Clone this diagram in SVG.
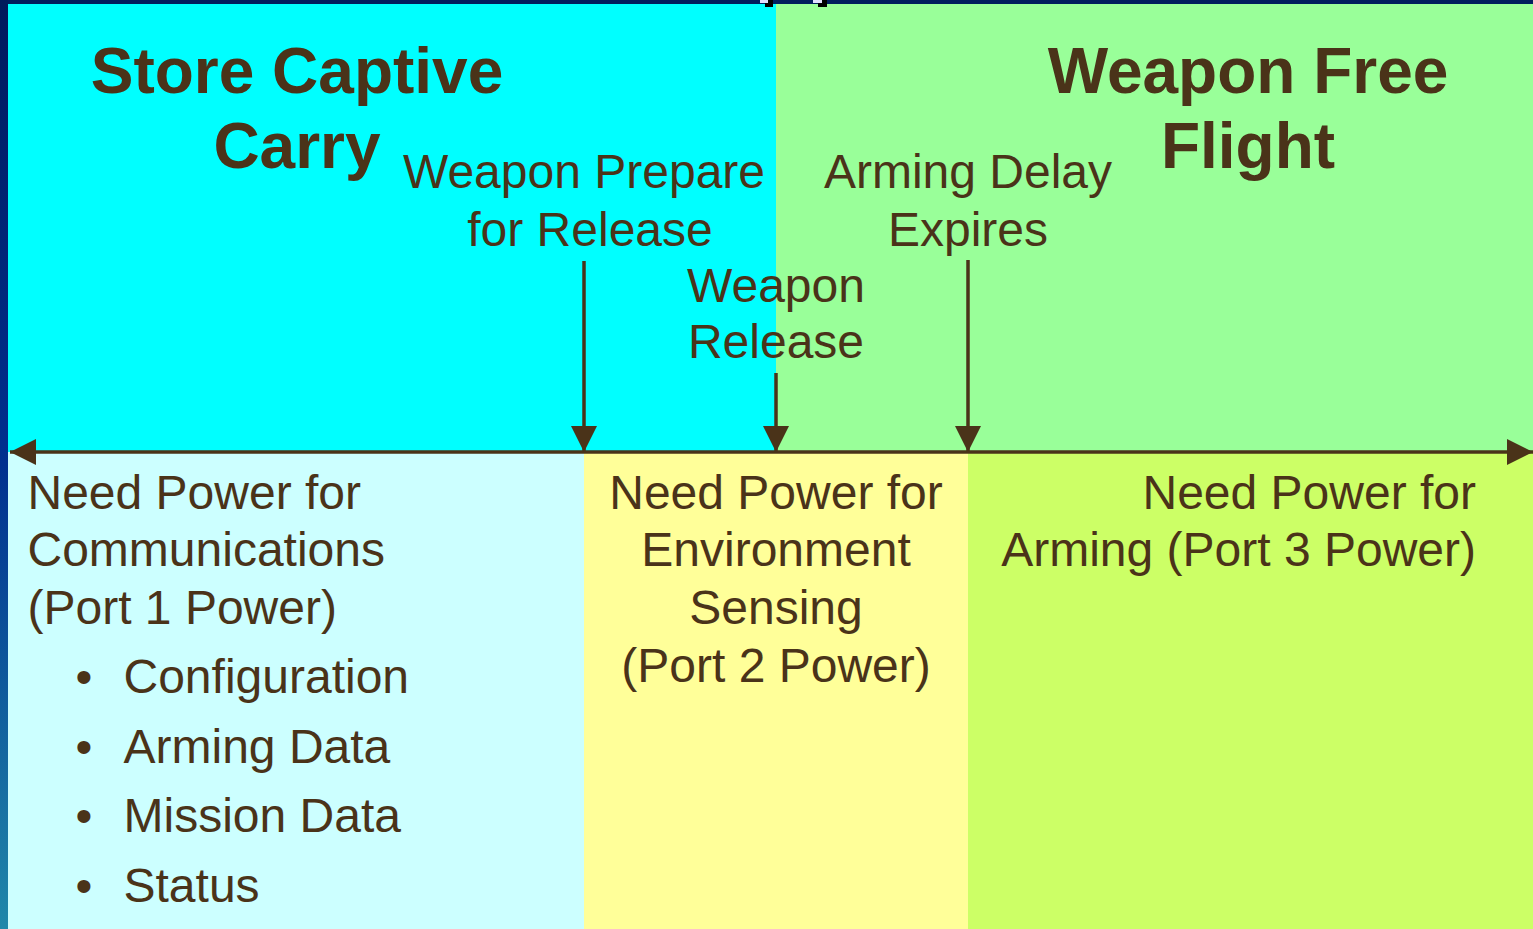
<svg xmlns="http://www.w3.org/2000/svg" width="1533" height="929" viewBox="0 0 1533 929">
<defs>
<linearGradient id="edge" x1="0" y1="0" x2="0" y2="1">
<stop offset="0" stop-color="#001a5c"/>
<stop offset="0.5" stop-color="#00308f"/>
<stop offset="1" stop-color="#2088aa"/>
</linearGradient>
<marker id="ah" viewBox="0 0 26 26" refX="26" refY="13" markerWidth="26" markerHeight="26" markerUnits="userSpaceOnUse" orient="auto">
<path d="M0,0 L26,13 L0,26 Z" fill="#4a3319"/>
</marker>
<style>
.t{font-family:"Liberation Sans",Arial,sans-serif;fill:#4a3319}
.h{font-size:64px;font-weight:bold;text-anchor:middle}
.r{font-size:48px}
.c{text-anchor:middle}
.e{text-anchor:end}
.ln{stroke:#4a3319;stroke-width:3.5;fill:none}
</style>
</defs>
<g id="background">
<rect x="0" y="0" width="1533" height="929" fill="#001e5e"/>
<rect x="0" y="0" width="8" height="929" fill="url(#edge)"/>
<rect x="8" y="4" width="768" height="448" fill="#00ffff"/>
<rect x="776" y="4" width="757" height="448" fill="#99ff99"/>
<rect x="8" y="452" width="576" height="477" fill="#ccffff"/>
<rect x="584" y="452" width="384" height="477" fill="#ffff99"/>
<rect x="968" y="452" width="565" height="477" fill="#ccff66"/>
<rect x="765" y="0" width="8" height="7" fill="#000"/>
<rect x="760" y="0" width="8" height="3" fill="#e0e0ff"/>
<rect x="818" y="0" width="9" height="7" fill="#000"/>
<rect x="813" y="0" width="9" height="3" fill="#e0e0ff"/>
</g>
<g id="connectors">
<line class="ln" x1="584" y1="452" x2="10" y2="452" marker-end="url(#ah)"/>
<line class="ln" x1="584" y1="452" x2="1533" y2="452" marker-end="url(#ah)"/>
<line class="ln" x1="584" y1="261" x2="584" y2="452" marker-end="url(#ah)"/>
<line class="ln" x1="776" y1="373" x2="776" y2="452" marker-end="url(#ah)"/>
<line class="ln" x1="968" y1="260" x2="968" y2="452" marker-end="url(#ah)"/>
</g>
<g id="store-captive-carry">
<text class="t h" x="297" y="93">Store Captive</text>
<text class="t h" x="297" y="168">Carry</text>
</g>
<g id="weapon-free-flight">
<text class="t h" x="1248" y="93">Weapon Free</text>
<text class="t h" x="1248" y="168">Flight</text>
</g>
<g id="weapon-prepare">
<text class="t r c" x="584" y="188">Weapon Prepare</text>
<text class="t r c" x="590" y="246">for Release</text>
</g>
<g id="weapon-release">
<text class="t r c" x="776" y="302">Weapon</text>
<text class="t r c" x="776" y="358">Release</text>
</g>
<g id="arming-delay">
<text class="t r c" x="968" y="188">Arming Delay</text>
<text class="t r c" x="968" y="246">Expires</text>
</g>
<g id="port1">
<text class="t r" x="27.5" y="509">Need Power for</text>
<text class="t r" x="27.5" y="566">Communications</text>
<text class="t r" x="27.5" y="624">(Port 1 Power)</text>
<text class="t r" x="75.5" y="693">•</text>
<text class="t r" x="123.5" y="693">Configuration</text>
<text class="t r" x="75.5" y="763">•</text>
<text class="t r" x="123.5" y="763">Arming Data</text>
<text class="t r" x="75.5" y="832">•</text>
<text class="t r" x="123.5" y="832">Mission Data</text>
<text class="t r" x="75.5" y="902">•</text>
<text class="t r" x="123.5" y="902">Status</text>
</g>
<g id="port2">
<text class="t r c" x="776" y="509">Need Power for</text>
<text class="t r c" x="776" y="566">Environment</text>
<text class="t r c" x="776" y="624">Sensing</text>
<text class="t r c" x="776" y="682">(Port 2 Power)</text>
</g>
<g id="port3">
<text class="t r e" x="1476" y="509">Need Power for</text>
<text class="t r e" x="1476" y="566">Arming (Port 3 Power)</text>
</g>
</svg>
